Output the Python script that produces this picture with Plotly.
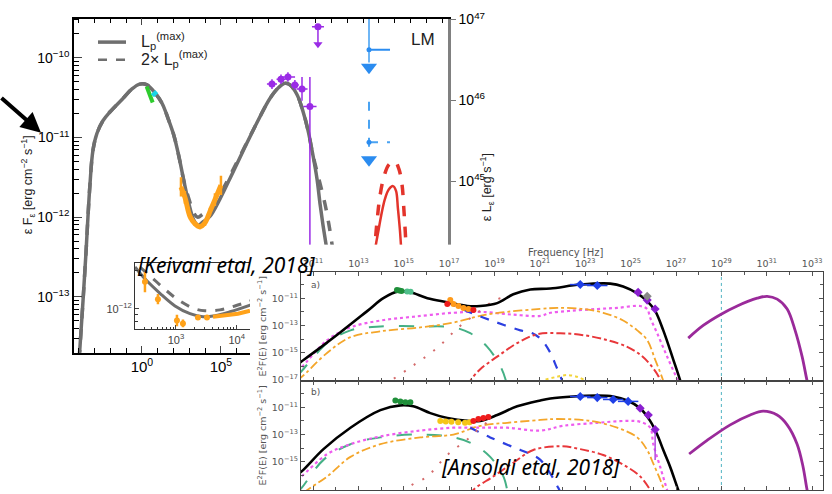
import numpy as np
import plotly.graph_objects as go

W, H = 832, 494


def px(x):
    return x / W


def py(y):
    return 1 - y / H


def P(v):
    return 10 ** np.asarray(v, dtype=float)


def errs(logv, up, dn):
    v = np.asarray(logv, float)
    return (P(v + np.asarray(up, float)) - P(v), P(v) - P(v - np.asarray(dn, float)))


# ---------------- Keivani et al. 2018: log10 E [eV], log10 eF [erg cm^-2 s^-1] ----------------
kv_Lmax_logE = [-3.98, -3.73, -3.54, -3.42, -3.29, -3.10, -2.85, -2.47, -2.03, -1.20, -0.63, -0.13, 0.32,
                0.82, 1.27, 1.65, 2.03, 2.34, 2.66, 2.97, 3.29, 3.54, 3.86, 4.30, 4.94, 5.70, 6.52, 7.34,
                8.10, 8.67, 9.05, 9.37, 9.81, 10.19, 10.51, 10.82, 11.08, 11.27, 11.46, 11.65, 11.75]
kv_Lmax_logF = [-13.80, -13.05, -12.44, -12.01, -11.59, -11.16, -10.95, -10.79, -10.68, -10.51, -10.39, -10.33,
                -10.34, -10.44, -10.57, -10.76, -10.98, -11.24, -11.55, -11.83, -12.04, -12.10, -12.06, -11.99,
                -11.77, -11.46, -11.12, -10.79, -10.51, -10.37, -10.32, -10.34, -10.46, -10.67, -10.91, -11.22,
                -11.52, -11.83, -12.10, -12.34, -12.48]
kv_2Lmax_logE = [-3.98, -3.73, -3.54, -3.42, -3.29, -3.10, -2.85, -2.47, -2.03, -1.20, -0.63, -0.13, 0.32,
                 0.82, 1.27, 1.65, 2.03, 2.34, 2.66, 2.97, 3.29, 3.54, 3.86, 4.30, 4.94, 5.70, 6.52, 7.34,
                 8.10, 8.67, 9.05, 9.37, 9.81, 10.19, 10.51, 10.82, 11.20, 11.58, 11.84, 12.03, 12.12]
kv_2Lmax_logF = [-13.80, -13.05, -12.44, -12.01, -11.59, -11.16, -10.95, -10.79, -10.68, -10.51, -10.39, -10.33,
                 -10.34, -10.44, -10.57, -10.76, -10.98, -11.24, -11.55, -11.77, -11.95, -12.00, -11.96, -11.90,
                 -11.71, -11.43, -11.11, -10.79, -10.51, -10.37, -10.32, -10.34, -10.46, -10.67, -10.91, -11.22,
                 -11.52, -11.83, -12.10, -12.34, -12.48]
kv_opt_logE = [0.30, 0.48, 0.68]
kv_opt_logF = [-10.36, -10.45, -10.56]
kv_uv_logE = [0.70, 0.90]
kv_uv_logF = [-10.43, -10.47]
kv_xray_logE = [2.47, 2.72, 3.04, 3.35, 3.67, 3.99, 4.30, 4.62, 5.00]
kv_xray_logF = [-11.62, -11.75, -11.99, -12.08, -12.12, -12.07, -11.93, -11.78, -11.60]
kv_xray_err = [0.12, 0.08, 0.04, 0.03, 0.03, 0.04, 0.05, 0.08, 0.12]
kv_lat_logE = [8.23, 8.80, 9.24, 9.68, 10.13, 10.63]
kv_lat_logF = [-10.33, -10.27, -10.24, -10.34, -10.39, -10.61]
kv_lat_xerr = [0.32, 0.28, 0.45, 0.25, 0.35, 0.42]
kv_lat_yup = [0.06, 0.06, 0.06, 0.06, 0.15, 0.37]
kv_lat_ydn = [0.06, 0.06, 0.06, 0.06, 0.15, 2.50]
kv_latul_logE = [11.14]
kv_latul_logF = [-9.61]
kv_latul_xerr = [0.38]
kv_latul_arrow = [-9.83]
kv_ul_solid_logE = [14.37]
kv_ul_solid_logF = [-9.90]
kv_ul_solid_top = [-9.30]
kv_ul_solid_arrow = [-10.12]
kv_ul_dash_logE = [14.37]
kv_ul_dash_logF = [-11.06]
kv_ul_dash_top = [-10.55]
kv_ul_dash_arrow = [-11.28]
kv_ul_xmax = [15.70]
kv_nu_logE = [14.70, 14.81, 14.94, 15.13, 15.38, 15.63, 15.89, 16.08, 16.20, 16.33, 16.39, 16.45]
kv_nu_logF = [-12.50, -12.34, -12.20, -11.99, -11.77, -11.65, -11.61, -11.67, -11.89, -12.17, -12.34, -12.50]
kv_nu2_logE = [14.68, 14.75, 14.87, 15.06, 15.32, 15.63, 16.01, 16.27, 16.46, 16.58, 16.65, 16.71, 16.76]
kv_nu2_logF = [-12.50, -12.34, -12.07, -11.74, -11.49, -11.34, -11.30, -11.40, -11.59, -11.91, -12.13, -12.34,
               -12.50]
kv_x_ticks = [0, 5]
kv_y_ticks = [-13, -12, -11, -10]
kv_L_ticks = [45, 46, 47]
kv_legend = ["L<sub>p</sub><sup>(max)</sup>", "2× L<sub>p</sub><sup>(max)</sup>"]

# inset (zoom on X-ray band)
in_L_logE = [2.325, 2.489, 2.736, 2.984, 3.231, 3.445, 3.643, 3.890, 4.269]
in_L_logF = [-11.669, -11.762, -11.877, -11.977, -12.038, -12.062, -12.054, -12.023, -11.962]
in_2L_logE = [2.407, 2.572, 2.819, 3.066, 3.313, 3.478, 3.725, 3.972, 4.269]
in_2L_logF = [-11.669, -11.738, -11.846, -11.938, -12.000, -12.015, -12.008, -11.977, -11.931]
in_pts_logE = [2.489, 2.703, 3.016, 3.115, 3.362, 3.511]
in_pts_logF = [-11.785, -11.923, -12.092, -12.115, -12.069, -12.069]
in_pts_up = [0.077, 0.04, 0.045, 0.03, 0.02, 0.02]
in_pts_dn = [0.084, 0.04, 0.045, 0.03, 0.02, 0.02]
in_band_logE = [3.610, 3.807, 4.021, 4.219]
in_band_logF = [-12.062, -12.054, -12.038, -12.015]

# ---------------- Ansoldi et al. 2018: log10 nu [Hz], log10 E^2F(E) ----------------
an_a_tot_nu = [10.3, 10.49, 11.19, 12.21, 13.40, 14.10, 14.76, 15.29, 16.04, 16.92, 17.80, 18.37, 19.12, 19.83,
               20.58, 21.46, 22.78, 24.10, 24.67, 25.29, 25.73, 26.08, 26.44, 26.88, 27.19, 27.3]
an_a_tot_F = [-15.87, -15.64, -14.79, -13.50, -11.93, -11.00, -10.50, -10.57, -11.00, -11.29, -11.57, -11.57,
              -11.36, -10.71, -10.36, -10.29, -10.00, -9.93, -10.14, -10.64, -11.21, -11.93, -13.36, -15.50,
              -17.07, -17.8]
an_a_grn_nu = [10.3, 10.49, 11.63, 12.65, 13.97, 15.73, 17.19, 17.93, 18.68, 19.26, 19.48, 19.55]
an_a_grn_F = [-16.7, -16.36, -14.29, -13.36, -13.07, -13.07, -13.14, -13.57, -14.57, -16.00, -16.93, -17.5]
an_a_mag_nu = [10.3, 10.49, 11.63, 12.65, 13.97, 15.42, 17.19, 18.37, 19.83, 21.02, 21.46, 22.34, 23.53, 24.41,
               25.42, 25.73, 25.86, 26.17, 26.61, 27.05, 27.2]
an_a_mag_F = [-16.3, -16.07, -14.07, -13.14, -12.64, -12.36, -12.07, -12.00, -12.21, -12.30, -12.07, -11.93,
              -11.79, -11.71, -11.57, -11.79, -12.43, -13.57, -15.29, -16.93, -17.5]
an_a_org_nu = [10.3, 10.49, 11.63, 12.65, 13.97, 15.73, 17.19, 18.37, 19.56, 21.02, 21.77, 22.91, 23.79, 24.67,
               25.29, 25.73, 26.08, 26.30, 26.44, 26.5]
an_a_org_F = [-17.0, -16.79, -15.00, -13.86, -13.43, -13.14, -12.79, -12.29, -12.00, -11.79, -11.71, -11.79,
              -12.07, -12.64, -13.36, -14.07, -15.50, -16.43, -17.07, -17.5]
an_a_blu_nu = [16.92, 18.07, 19.12, 20.14, 20.71, 21.10, 21.46, 21.72, 21.99, 22.05]
an_a_blu_F = [-11.29, -12.14, -12.79, -13.36, -13.60, -14.10, -15.00, -16.00, -17.07, -17.3]
an_a_rdd_nu = [17.85, 17.93, 18.37, 19.12, 20.00, 20.89, 21.90, 22.91, 23.97, 24.85, 25.42, 25.86, 26.22, 26.30,
               26.35]
an_a_rdd_F = [-17.5, -17.07, -16.21, -15.29, -14.29, -13.64, -13.57, -13.71, -14.07, -14.57, -15.14, -15.86,
              -16.71, -17.07, -17.4]
an_a_rdt_nu = [14.2, 14.41, 15.42, 16.48, 17.41, 18.07, 18.95, 19.26]
an_a_rdt_F = [-17.3, -17.07, -15.93, -14.64, -13.14, -12.29, -11.21, -11.0]
an_a_yel_nu = [21.1, 21.15, 21.68, 22.21, 22.69, 23.0, 23.05]
an_a_yel_F = [-17.3, -17.07, -16.79, -16.64, -16.79, -17.07, -17.3]
an_a_pur_nu = [27.54, 28.20, 28.95, 29.70, 30.58, 31.02, 31.46, 31.90, 32.25, 32.56, 32.78, 32.85]
an_a_pur_F = [-13.93, -13.00, -12.21, -11.57, -11.00, -10.86, -11.07, -11.79, -13.36, -15.29, -17.07, -17.5]
an_a_pts = {
    "grn": ([14.70, 14.80, 14.90], [-10.40, -10.44, -10.47]),
    "sea": ([15.15, 15.30], [-10.50, -10.52]),
    "org": ([17.05, 17.19, 17.41, 17.63, 17.85], [-11.14, -11.43, -11.57, -11.71, -11.79]),
    "red": ([16.92, 18.07], [-11.43, -11.86]),
    "blu": ([22.78, 23.53], [-10.00, -10.07]),
    "pur": ([25.33, 25.73, 26.08], [-10.57, -11.14, -11.79]),
    "gry": ([25.73], [-10.86]),
}

an_b_tot_nu = [10.3, 10.49, 11.46, 12.65, 13.97, 14.85, 15.42, 16.17, 16.92, 17.80, 18.37, 19.12, 20.00, 21.02,
               21.46, 22.47, 23.53, 24.23, 24.85, 25.42, 25.86, 26.17, 26.44, 26.74, 27.10, 27.2]
an_b_tot_F = [-15.9, -15.71, -14.07, -12.50, -11.21, -10.86, -10.93, -11.43, -11.79, -12.00, -12.00, -11.57,
              -10.93, -10.50, -10.36, -10.21, -10.14, -10.21, -10.50, -11.07, -12.00, -13.00, -14.14, -15.36,
              -17.07, -17.5]
an_b_grn_nu = [10.3, 10.49, 11.46, 12.65, 13.97, 15.73, 17.19, 18.07, 18.81, 19.39, 19.56, 19.6]
an_b_grn_F = [-17.2, -16.93, -14.86, -13.71, -13.21, -13.00, -13.21, -13.71, -14.64, -16.07, -17.07, -17.4]
an_b_mag_nu = [10.3, 10.49, 11.63, 12.65, 13.97, 15.73, 17.19, 18.37, 19.56, 21.02, 22.03, 23.53, 24.85, 25.42,
               25.86, 26.00, 26.30, 26.61, 26.7]
an_b_mag_F = [-16.3, -16.07, -14.43, -13.71, -13.14, -12.71, -12.50, -12.50, -12.50, -12.71, -12.36, -12.14,
              -12.00, -12.07, -12.50, -13.71, -15.36, -17.07, -17.5]
an_b_org_nu = [10.6, 10.75, 11.63, 12.65, 13.97, 15.73, 17.19, 18.37, 19.56, 21.02, 21.77, 23.22, 24.41, 25.29,
               25.73, 26.00, 26.30, 26.48, 26.55]
an_b_org_F = [-17.3, -17.07, -16.07, -14.64, -13.71, -13.21, -13.00, -12.36, -12.14, -11.93, -11.86, -12.00,
              -12.50, -13.21, -14.14, -15.14, -16.29, -17.07, -17.4]
an_b_blu_nu = [17.93, 18.81, 19.83, 20.58, 21.02, 21.46, 21.77, 21.86, 21.9]
an_b_blu_F = [-12.50, -13.21, -13.93, -14.43, -14.86, -15.86, -16.79, -17.07, -17.3]
an_b_rdd_nu = [17.95, 18.07, 18.95, 19.83, 20.71, 21.90, 22.78, 23.79, 24.67, 25.42, 25.86, 25.95]
an_b_rdd_F = [-17.5, -17.07, -16.07, -15.07, -14.14, -13.86, -14.07, -14.50, -15.21, -16.07, -17.07, -17.4]
an_b_rdt_nu = [15.1, 15.29, 16.04, 16.92, 17.80, 18.37, 18.95]
an_b_rdt_F = [-17.3, -16.79, -16.07, -14.50, -13.36, -12.50, -11.79]
an_b_pur_nu = [27.58, 28.37, 29.39, 30.27, 30.84, 31.46, 31.90, 32.34, 32.60, 32.78, 32.85]
an_b_pur_F = [-14.43, -13.43, -12.29, -11.57, -11.29, -11.57, -12.29, -13.71, -15.36, -17.07, -17.5]
an_b_pts = {
    "grn": ([14.63, 14.85, 15.07, 15.29], [-10.50, -10.57, -10.64, -10.64]),
    "yel": ([16.61, 16.85, 17.10, 17.40, 17.70, 17.90], [-12.00, -12.05, -12.07, -12.10, -12.14, -12.10]),
    "red": ([18.07, 18.29, 18.51, 18.73], [-12.00, -11.86, -11.79, -11.71]),
    "blu": ([22.78, 23.53, 24.23, 24.89], [-10.21, -10.29, -10.43, -10.57]),
    "pur": ([25.42, 25.78, 26.08], [-11.07, -11.57, -12.64]),
}
an_b_vline_nu = [26.08, 26.08]
an_b_vline_F = [-12.64, -14.86]
an_ref_nu = 29.0
an_x_ticks = list(range(11, 34, 2))
an_y_ticks = [-17, -15, -13, -11]

# ---------------- figure ----------------
fig = go.Figure()
GRAY = "#6f6f6f"
KPUR = "#9a2be6"
KBLU = "#2b8cf0"
KRED = "#e3342b"


def sc(lx, ly, xa, ya, **kw):
    kw.setdefault("hoverinfo", "skip")
    kw.setdefault("showlegend", False)
    fig.add_trace(go.Scatter(x=P(lx), y=P(ly), xaxis=xa, yaxis=ya, **kw))


# Keivani main
sc(kv_2Lmax_logE, kv_2Lmax_logF, "x", "y", mode="lines", line=dict(color=GRAY, width=3.5, dash="dash", shape="spline"),
   name=kv_legend[1])
sc(kv_Lmax_logE, kv_Lmax_logF, "x", "y", mode="lines", line=dict(color=GRAY, width=3.5, shape="spline"),
   name=kv_legend[0])
sc(kv_opt_logE, kv_opt_logF, "x", "y", mode="lines", line=dict(color="#2ecc2e", width=4))
sc(kv_uv_logE, kv_uv_logF, "x", "y", mode="lines", line=dict(color="#19d5e6", width=6))
eu, ed = errs(kv_xray_logF, kv_xray_err, kv_xray_err)
sc(kv_xray_logE, kv_xray_logF, "x", "y", mode="lines", line=dict(color="#ffa21a", width=5, shape="spline"),
   error_y=dict(type="data", array=eu, arrayminus=ed, color="#ffa21a", thickness=2.5, width=0))
xu, xd = errs(kv_lat_logE, kv_lat_xerr, kv_lat_xerr)
yu, yd = errs(kv_lat_logF, kv_lat_yup, kv_lat_ydn)
sc(kv_lat_logE, kv_lat_logF, "x", "y", mode="markers", marker=dict(color=KPUR, size=7),
   error_x=dict(type="data", array=xu, arrayminus=xd, color=KPUR, thickness=1.5, width=0),
   error_y=dict(type="data", array=yu, arrayminus=yd, color=KPUR, thickness=1.5, width=0))
xu, xd = errs(kv_latul_logE, kv_latul_xerr, kv_latul_xerr)
sc(kv_latul_logE, kv_latul_logF, "x", "y", mode="markers", marker=dict(color=KPUR, size=7),
   error_x=dict(type="data", array=xu, arrayminus=xd, color=KPUR, thickness=1.5, width=0))
sc(kv_latul_logE * 2, [kv_latul_logF[0], kv_latul_arrow[0]], "x", "y", mode="lines", line=dict(color=KPUR, width=1.5))
sc(kv_latul_logE, kv_latul_arrow, "x", "y", mode="markers", marker=dict(color=KPUR, size=8, symbol="triangle-down"))
# blue upper limits
sc(kv_ul_solid_logE * 2, [kv_ul_solid_top[0], kv_ul_solid_arrow[0] + 0.06], "x", "y", mode="lines",
   line=dict(color="#6fb6f5", width=2))
sc([kv_ul_solid_logE[0], kv_ul_xmax[0]], kv_ul_solid_logF * 2, "x", "y", mode="lines", line=dict(color=KBLU, width=2))
sc(kv_ul_solid_logE, kv_ul_solid_logF, "x", "y", mode="markers", marker=dict(color=KBLU, size=5))
sc(kv_ul_solid_logE, kv_ul_solid_arrow, "x", "y", mode="markers", marker=dict(color=KBLU, size=14, symbol="triangle-down"))
sc(kv_ul_dash_logE * 2, [kv_ul_dash_top[0], kv_ul_dash_arrow[0] + 0.06], "x", "y", mode="lines",
   line=dict(color="#4aa3f2", width=2, dash="dash"))
sc([kv_ul_dash_logE[0], kv_ul_xmax[0]], kv_ul_dash_logF * 2, "x", "y", mode="lines",
   line=dict(color="#4aa3f2", width=2, dash="dash"))
sc(kv_ul_dash_logE, kv_ul_dash_logF, "x", "y", mode="markers", marker=dict(color=KBLU, size=5))
sc(kv_ul_dash_logE, kv_ul_dash_arrow, "x", "y", mode="markers", marker=dict(color=KBLU, size=14, symbol="triangle-down"))
# neutrino bumps
sc(kv_nu2_logE, kv_nu2_logF, "x", "y", mode="lines", line=dict(color=KRED, width=3.5, dash="dash", shape="spline"))
sc(kv_nu_logE, kv_nu_logF, "x", "y", mode="lines", line=dict(color=KRED, width=2.5, shape="spline"))
# dummy trace registering the luminosity axis
fig.add_trace(go.Scatter(x=[None], y=[None], xaxis="x", yaxis="y2", showlegend=False, hoverinfo="skip"))

# inset
sc(in_2L_logE, in_2L_logF, "x3", "y3", mode="lines", line=dict(color=GRAY, width=3, dash="dash", shape="spline"))
sc(in_L_logE, in_L_logF, "x3", "y3", mode="lines", line=dict(color=GRAY, width=3, shape="spline"))
sc(in_band_logE, in_band_logF, "x3", "y3", mode="lines", line=dict(color="#ffa21a", width=4))
eu, ed = errs(in_pts_logF, in_pts_up, in_pts_dn)
sc(in_pts_logE, in_pts_logF, "x3", "y3", mode="markers", marker=dict(color="#ffa21a", size=6),
   error_y=dict(type="data", array=eu, arrayminus=ed, color="#ffa21a", thickness=2.5, width=0))

# white cover (the pasted second figure)
fig.add_trace(go.Scatter(x=[None], y=[None], xaxis="x4", yaxis="y4", showlegend=False, hoverinfo="skip"))

# Ansoldi panels
cols = {"grn": "#1f8f3a", "sea": "#4fbf8a", "org": "#ff9a1a", "red": "#ee1c1c", "blu": "#1f3fe6",
        "pur": "#8a1fd0", "gry": "#888888", "yel": "#f5c518"}
for xa, ya, d, pts in (("x5", "y5", "a", an_a_pts), ("x6", "y6", "b", an_b_pts)):
    g = globals()
    sc([an_ref_nu, an_ref_nu], [-9.0, -17.5], xa, ya, mode="lines", line=dict(color="#4fb3c2", width=1, dash="dot"))
    sc(g[f"an_{d}_grn_nu"], g[f"an_{d}_grn_F"], xa, ya, mode="lines",
       line=dict(color="#45b085", width=2, dash="longdash", shape="spline"))
    sc(g[f"an_{d}_mag_nu"], g[f"an_{d}_mag_F"], xa, ya, mode="lines",
       line=dict(color="#ee5cee", width=2.2, dash="dot", shape="spline"))
    sc(g[f"an_{d}_org_nu"], g[f"an_{d}_org_F"], xa, ya, mode="lines",
       line=dict(color="#f4a62a", width=1.8, dash="dashdot", shape="spline"))
    sc(g[f"an_{d}_blu_nu"], g[f"an_{d}_blu_F"], xa, ya, mode="lines",
       line=dict(color="#2c3fe0", width=2.2, dash="dash", shape="spline"))
    sc(g[f"an_{d}_rdd_nu"], g[f"an_{d}_rdd_F"], xa, ya, mode="lines",
       line=dict(color="#e8373a", width=2, dash="dashdot", shape="spline"))
    sc(g[f"an_{d}_rdt_nu"], g[f"an_{d}_rdt_F"], xa, ya, mode="lines",
       line=dict(color="#d46a6a", width=2, dash="0px,10px,2px,0px", shape="spline"))
    if d == "a":
        sc(an_a_yel_nu, an_a_yel_F, xa, ya, mode="lines", line=dict(color="#f2d43a", width=2, dash="dot", shape="spline"))
    sc(g[f"an_{d}_pur_nu"], g[f"an_{d}_pur_F"], xa, ya, mode="lines",
       line=dict(color="#9a2a9a", width=2.8, shape="spline"))
    sc(g[f"an_{d}_tot_nu"], g[f"an_{d}_tot_F"], xa, ya, mode="lines",
       line=dict(color="black", width=2.6, shape="spline"))
    if d == "b":
        sc(an_b_vline_nu, an_b_vline_F, xa, ya, mode="lines", line=dict(color="#b04ae0", width=1.5))
    for k, (lx, ly) in pts.items():
        ex = None
        if k == "blu":
            eu, ed = errs(lx, [0.45] * len(lx), [0.45] * len(lx))
            ex = dict(type="data", array=eu, arrayminus=ed, color=cols[k], thickness=1.5, width=0)
        sc(lx, ly, xa, ya, mode="markers",
           marker=dict(color=cols[k], size=6 if k in ("grn", "sea", "org", "red", "yel") else 7,
                       symbol="diamond" if k in ("pur", "blu", "gry") else "circle"),
           error_x=ex)

# ---------------- axes ----------------
KF = dict(family="Liberation Sans, Arial, sans-serif", size=14, color="black")
AF = dict(family="DejaVu Sans, sans-serif", size=9.5, color="#555555")


def sup(v):
    s = str(v).replace("-", "−")
    return f"10<sup>{s}</sup>"


layout = dict(
    width=W, height=H, margin=dict(l=0, r=0, t=0, b=0),
    paper_bgcolor="white", plot_bgcolor="white",
    showlegend=False,
    xaxis=dict(type="log", domain=[px(74), px(448)], range=[-4.30, 19.37], anchor="y",
               tickvals=P(kv_x_ticks), ticktext=[sup(v) for v in kv_x_ticks], ticks="inside", ticklen=7,
               minor=dict(dtick=1, ticks="inside", ticklen=5, tickcolor="black"),
               showline=True, linecolor="black", linewidth=1.5, mirror="ticks", showgrid=False,
               tickfont=dict(KF, size=15), zeroline=False),
    yaxis=dict(type="log", domain=[py(353), py(10)], range=[-13.70, -9.51], anchor="x",
               tickvals=P(kv_y_ticks), ticktext=[sup(v) for v in kv_y_ticks], ticks="inside", ticklen=8,
               minor=dict(dtick="D1", ticks="inside", ticklen=5, tickcolor="black"),
               showline=True, linecolor="black", linewidth=1.5, showgrid=False, tickfont=KF, zeroline=False),
    yaxis2=dict(type="log", overlaying="y", side="right", anchor="x", range=[42.88, 47.01],
                tickvals=P(kv_L_ticks), ticktext=[sup(v) for v in kv_L_ticks], ticks="outside", ticklen=5,
                tickcolor="#777", showline=True, linecolor="#808080", linewidth=2.5, showgrid=False,
                tickfont=KF, zeroline=False),
    xaxis3=dict(type="log", domain=[px(135), px(253)], range=[2.325, 4.269], anchor="y3",
                tickvals=[1e3, 1e4], ticktext=[sup(3), sup(4)], ticks="inside", ticklen=4,
                minor=dict(dtick="D1", ticks="inside", ticklen=2.5, tickcolor="#333"),
                showline=True, linecolor="#333", linewidth=1.2, mirror=True, showgrid=False,
                tickfont=dict(family="Liberation Sans, Arial", size=11, color="#444"), zeroline=False),
    yaxis3=dict(type="log", domain=[py(329), py(261)], range=[-12.162, -11.638], anchor="x3",
                tickvals=[1e-12], ticktext=[sup(-12)], ticks="inside", ticklen=4,
                minor=dict(dtick="D1", ticks="inside", ticklen=2.5, tickcolor="#333"),
                showline=True, linecolor="#333", linewidth=1.2, showgrid=False,
                tickfont=dict(family="Liberation Sans, Arial", size=11, color="#444"), zeroline=False),
    xaxis4=dict(domain=[px(250), 1], range=[0, 1], anchor="y4", visible=False),
    yaxis4=dict(domain=[0, py(242)], range=[0, 1], anchor="x4", visible=False),
)


def an_x(dom_anchor, top):
    return dict(type="log", domain=[px(301), px(823)], range=[10.47, 33.48], anchor=dom_anchor,
                side="top" if top else "bottom", showticklabels=top,
                tickvals=P(an_x_ticks), ticktext=[sup(v) for v in an_x_ticks], ticks="inside", ticklen=4,
                tickcolor="#555", minor=dict(dtick=1, ticks="inside", ticklen=3, tickcolor="#555"),
                showline=True, linecolor="#444", linewidth=1.3, mirror="ticks", showgrid=False,
                tickfont=AF, zeroline=False)


def an_y(dom, anchor):
    return dict(type="log", domain=dom, range=[-17.07, -9.07], anchor=anchor,
                tickvals=P(an_y_ticks), ticktext=[sup(v) for v in an_y_ticks], ticks="inside", ticklen=4,
                tickcolor="#555", minor=dict(dtick=1, ticks="inside", ticklen=3, tickcolor="#555"),
                showline=True, linecolor="#444", linewidth=1.3, mirror="ticks", showgrid=False,
                tickfont=AF, zeroline=False)


layout["xaxis5"] = an_x("y5", True)
layout["yaxis5"] = an_y([py(382), py(270)], "x5")
layout["xaxis6"] = an_x("y6", False)
layout["yaxis6"] = an_y([py(494), py(382)], "x6")

fig.update_layout(**layout)

# legend of the Keivani panel (line samples + labels)
fig.add_shape(type="line", xref="paper", yref="paper", x0=px(98), x1=px(126), y0=py(34), y1=py(34),
              line=dict(color=GRAY, width=3.5))
fig.add_shape(type="line", xref="paper", yref="paper", x0=px(98), x1=px(126), y0=py(52), y1=py(52),
              line=dict(color=GRAY, width=2.5, dash="dash"))

ann = [
    dict(x=px(139), y=py(33), text=kv_legend[0], xanchor="left",
         font=dict(family="Liberation Sans, Arial", size=16, color="#222")),
    dict(x=px(139), y=py(51), text=kv_legend[1], xanchor="left",
         font=dict(family="Liberation Sans, Arial", size=16, color="#222")),
    dict(x=px(28), y=py(181), text="ε F<sub>ε</sub> [erg cm<sup>−2</sup> s<sup>−1</sup>]", textangle=-90,
         font=dict(family="Liberation Sans, Arial", size=12.5, color="#222")),
    dict(x=px(487), y=py(183), text="ε L<sub>ε</sub> [erg s<sup>−1</sup>]", textangle=-90,
         font=dict(family="Liberation Sans, Arial", size=12.5, color="#222")),
    dict(x=px(423), y=py(31), text="LM", font=dict(family="Liberation Sans, Arial", size=17, color="#222")),
    dict(x=px(566), y=py(250), text="Frequency [Hz]", font=dict(AF, size=10)),
    dict(x=px(315), y=py(283), text="a)", font=dict(AF, size=9)),
    dict(x=px(315), y=py(393), text="b)", font=dict(AF, size=9)),
    dict(x=px(262), y=py(326), text="E<sup>2</sup>F(E) [erg cm<sup>−2</sup> s<sup>−1</sup>]", textangle=-90,
         font=dict(AF, size=9.5)),
    dict(x=px(262), y=py(438), text="E<sup>2</sup>F(E) [erg cm<sup>−2</sup> s<sup>−1</sup>]", textangle=-90,
         font=dict(AF, size=9.5)),
    dict(x=px(226), y=py(263), text="[Keivani etal, 2018]",
         font=dict(family="Noto Sans, DejaVu Sans", size=21, color="black", style="italic")),
    dict(x=px(530), y=py(470), text="[Ansoldi etal, 2018]",
         font=dict(family="Noto Sans, DejaVu Sans", size=21, color="black", style="italic")),
]
for a in ann:
    a.setdefault("xanchor", "center")
    a.update(xref="paper", yref="paper", showarrow=False, yanchor="middle")
    fig.add_annotation(**a)
fig.add_annotation(x=px(41), y=py(127), xref="paper", yref="paper", ax=-43, ay=-36, text="",
                   showarrow=True, arrowhead=2, arrowsize=1, arrowwidth=4, arrowcolor="black")

fig.write_html("out.html")
